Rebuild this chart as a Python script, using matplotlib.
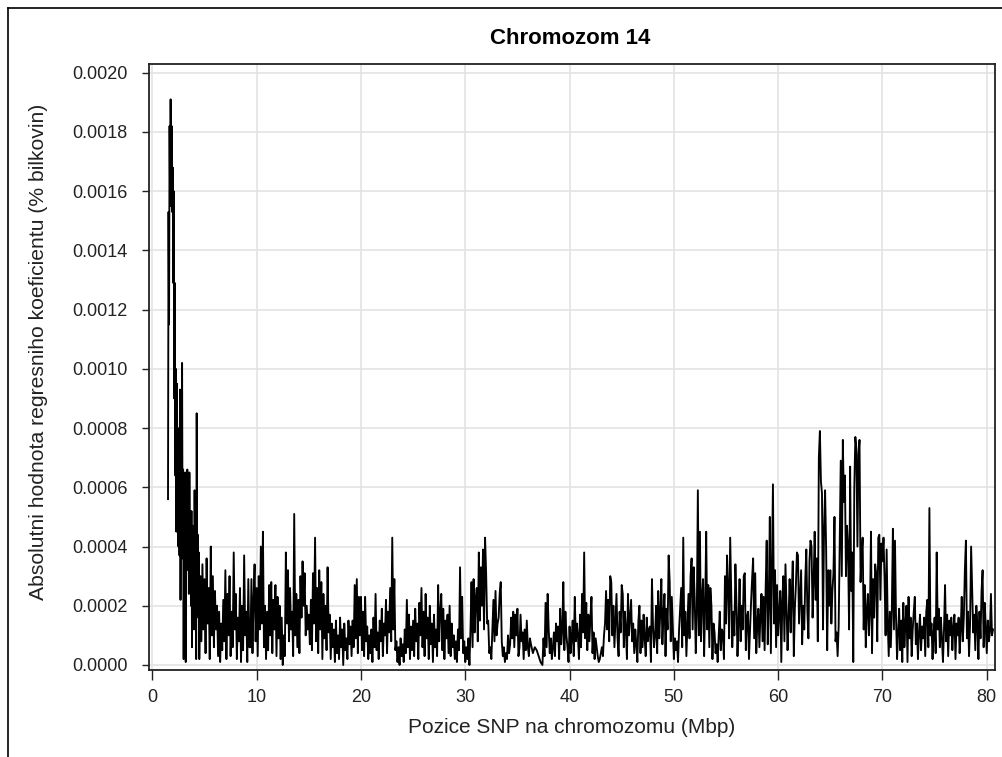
import numpy as np
import matplotlib
matplotlib.use('Agg')
import matplotlib.pyplot as plt
from matplotlib.ticker import FormatStrFormatter
from matplotlib.lines import Line2D

#==============================================================================
# DATA: absolute value of regression coefficient, in units of 1e-5 (% bilkovin)
# each block = (start Mbp, end Mbp, values)
#==============================================================================

u_01 = [56, 153, 115, 182, 155, 191, 160, 182, 153, 168, 129, 160, 90, 129, 64, 100,
        45, 95, 63, 80, 40, 76, 37, 93, 22, 70, 50, 102, 36, 66, 2, 60, 30, 65, 1, 58,
        32, 66, 36, 62, 24, 65, 38, 46, 20, 52, 6, 47, 30, 44, 12, 59, 28, 42, 2, 85,
        30, 44, 16, 38, 2]
u_02 = [30, 8, 34, 12, 29, 4, 36, 14, 26, 2, 40, 10, 30, 6, 25, 12, 20, 3, 18, 1,
        14, 5, 22, 8, 32, 2, 24, 10, 30, 3, 18, 6, 38, 12, 24, 2, 16, 8, 26, 1,
        20, 5, 37, 10, 18, 1, 29, 6]
u_03 = [6, 29, 4, 22, 34, 8, 26, 3, 30, 12, 40, 14, 45, 6, 20, 2, 18, 5, 27, 10,
        28, 4, 22, 12, 27, 3, 23, 9, 20, 2, 16, 0, 10, 3, 38, 14, 32, 8, 26, 12,
        18, 3, 51, 10, 24, 6, 22, 4, 30, 16, 35, 20, 31, 10, 20, 12, 17, 7, 22, 5,
        31, 14, 43, 8, 26, 4, 32, 12, 28, 2, 24, 9, 20, 5, 33, 11, 17, 2, 14, 6,
        12, 1, 15, 4, 10, 2, 16, 6, 12, 0, 14, 5, 9, 2, 15, 7, 13, 3, 15, 6,
        27, 9, 29, 4, 23, 10]
u_04 = [23, 5, 18, 3, 23, 8, 13, 2, 10, 4, 12, 1, 16, 6, 24, 5, 11, 2, 15, 8,
        19, 3, 14, 10, 22, 4, 18, 11, 26, 8, 43, 12, 29, 5, 8, 1, 6, 0, 9, 3,
        7, 1, 12, 4, 22, 6, 17, 2, 13, 5, 15, 3, 19, 8, 14, 2, 21, 10, 26, 6,
        18, 3, 24, 9, 16, 2, 20, 7, 14, 1, 17, 6, 12, 3, 27, 8, 18, 24, 5, 19,
        2, 15, 9, 17, 4]
u_05 = [20, 3, 14, 6, 10, 2, 8, 1, 12, 5, 33, 9, 23, 4, 8, 1, 6, 2, 9, 0,
        12, 28, 6, 29, 11, 22, 26, 8, 38, 15, 33, 20, 39, 12, 43, 31, 14, 15, 4, 6,
        2, 12, 22, 8, 25, 10, 14, 16, 24, 28, 8, 3, 6, 1, 4, 2, 10, 4, 7, 16,
        9, 18, 6, 17, 10, 19, 3, 6, 17, 8, 11, 2, 12, 5, 15, 6, 3, 9]
u_06 = [7, 4, 6, 5, 3, 1, 0]
u_07 = [9, 3, 21, 6, 24, 12, 4, 9, 2, 6, 11, 3, 14, 8, 13, 2, 19, 7, 12, 28,
        5, 18, 10, 6, 1, 13, 4, 9, 15, 3, 23, 8, 14, 10, 2, 17, 6, 24, 11, 38,
        9, 21, 5, 17, 8, 16, 23, 4, 11, 2, 9, 6, 3, 1, 2, 4, 6, 3, 10, 14,
        25, 12, 22, 8, 30, 28, 10, 20, 6, 15, 24, 9, 3, 18, 11, 27, 24, 6, 18, 12,
        2, 24, 10, 16, 22, 8, 14, 4, 12, 7, 1, 15, 20]
u_08 = [4, 15, 6, 17, 9, 3, 16, 8, 12, 13, 1, 29, 13, 6, 10, 20, 4, 25, 9, 18,
        29, 7, 17, 24, 3, 19, 12, 37, 28, 8, 23, 13, 2, 9, 5, 8, 1, 12, 19, 26,
        6, 43, 10, 18, 3, 14, 24, 9, 30, 36, 12, 33, 22, 4, 17, 59, 10, 45, 8, 23,
        29, 3, 20, 45, 12, 27, 6, 26, 20, 2, 14, 11, 4, 7, 1, 10, 18, 5, 12, 11,
        2, 30, 14, 37, 26, 9]
u_09 = [43, 25, 6, 18, 10, 34, 21, 3, 14, 29, 8, 20, 12, 30, 31, 5, 16, 18, 2, 12,
        21, 29, 36, 9, 31, 4, 14, 19, 6, 17, 24, 8, 23, 5, 26, 42, 7, 21, 50, 4,
        33, 61, 14, 32, 6, 27, 10, 18, 25, 1, 22, 30, 8, 34, 20, 5, 16, 29, 11, 24,
        35, 3, 19, 27, 38, 37, 14, 23, 32, 7, 20, 12, 29, 39, 18, 9, 35, 42, 40, 16,
        28, 45, 22, 36, 8, 70]
u_10 = [79, 62, 58, 12, 46, 59, 39, 5, 32, 20, 32, 14, 25, 31, 50, 8, 11, 3, 13, 41,
        69, 30, 76, 55, 64, 30, 47, 40, 12, 67, 25, 38, 1, 60, 77, 73, 40, 71, 76, 28,
        37, 43, 12, 27, 6, 19, 24, 10, 18, 45, 4, 29, 16, 34, 31, 8, 43, 44, 22, 41,
        35, 43, 29, 10, 39, 15, 3, 18, 6, 19, 46, 12, 42, 16, 2, 11, 19, 5, 15, 1]
u_11 = [21, 6, 14, 20, 1, 23, 9, 16, 3, 12, 18, 23, 7, 14, 2, 11, 17, 5, 13, 9,
        16, 3, 18, 22, 6, 53, 10, 14, 2, 11, 16, 4, 38, 12, 19, 6, 16, 9, 1, 12,
        27, 8, 17, 3, 15, 10, 16, 5, 13, 17, 2, 14, 10, 16, 4, 12, 23, 8, 16, 32,
        42, 9, 18, 3, 14, 40, 26, 11, 17, 5, 20, 14, 2, 18, 9, 25, 32, 6, 21, 13,
        4, 15, 8, 11, 24, 10, 12]

blocks = [(1.5, 4.5, u_01), (4.6, 9.3, u_02), (9.4, 19.9, u_03), (20.0, 28.4, u_04),
          (28.5, 36.2, u_05), (36.3, 37.4, u_06), (37.5, 46.7, u_07), (46.8, 55.3, u_08),
          (55.4, 63.9, u_09), (64.0, 71.9, u_10), (72.0, 80.6, u_11)]

x = np.concatenate([np.linspace(a, b, len(v)) for a, b, v in blocks])
y = np.concatenate([np.array(v, dtype=float) for a, b, v in blocks]) * 1e-5

#==============================================================================
# Graf
#==============================================================================

plt.rcParams['font.family'] = ['Liberation Sans', 'DejaVu Sans']

fig = plt.figure(figsize=(10.03, 7.57), dpi=100)
ax = fig.add_axes([0.14806, 0.11493, 0.84397, 0.80053])

ax.plot(x, y, color='black', lw=1.35)

ax.set_xlim(-0.37, 80.79)
ax.set_ylim(-1.69e-5, 0.0020294)
ax.set_xticks(range(0, 81, 10))
ax.set_yticks(np.arange(0, 0.00201, 0.0002))
ax.yaxis.set_major_formatter(FormatStrFormatter('%.4f'))

ax.grid(True, color='#e3e3e3', lw=1.2)
ax.set_axisbelow(True)

ax.tick_params(axis='x', length=7, width=1, pad=7, labelsize=13, colors='#222222')
ax.tick_params(axis='y', length=5, width=1, pad=10, labelsize=13, colors='#222222')
for s in ax.spines.values():
    s.set_linewidth(1.3)
    s.set_color('#222222')

ax.set_xlabel('Pozice SNP na chromozomu (Mbp)', fontsize=15, color='#222222', va='center')
ax.xaxis.set_label_coords(0.5, -0.0957)
ax.set_ylabel('Absolutni hodnota regresniho koeficientu (% bilkovin)', fontsize=15.2,
              color='#222222', va='center')
ax.yaxis.set_label_coords(-0.1305, 0.525)

fig.text(0.5686, 1 - 38 / 757, 'Chromozom 14', fontsize=16, fontweight='bold',
         ha='center', va='center', color='black')

# ramecek kolem obrazku (vlevo a nahore)
fig.add_artist(Line2D([8 / 1003, 8 / 1003], [0, 1 - 8 / 757], color='black', lw=1.2,
                      transform=fig.transFigure))
fig.add_artist(Line2D([8 / 1003, 1], [1 - 8 / 757, 1 - 8 / 757], color='black', lw=1.2,
                      transform=fig.transFigure))

fig.savefig('out.png', dpi=100)
